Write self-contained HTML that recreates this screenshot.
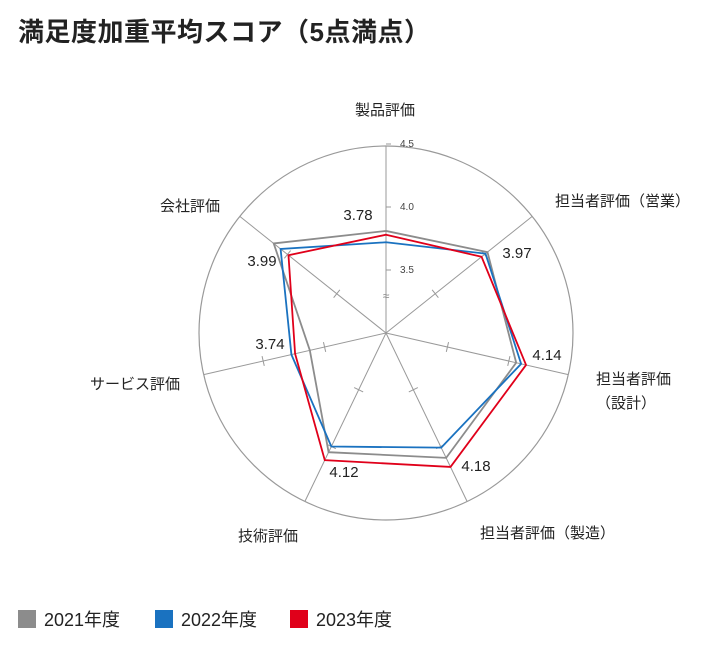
<!DOCTYPE html>
<html><head><meta charset="utf-8"><style>
body{margin:0;background:#fff;width:717px;height:652px;overflow:hidden;font-family:"Liberation Sans","Noto Sans CJK JP",sans-serif;}
.title{position:absolute;left:18px;top:12px;font-size:26px;font-weight:bold;color:#222;letter-spacing:0.5px}
.legend{position:absolute;top:606px;left:18px;font-size:18px;color:#222}
.li{position:absolute;top:0;display:flex;align-items:center;white-space:nowrap}
.sw{width:18px;height:18px;margin-right:8px}
</style></head><body>
<div class="title">満足度加重平均スコア（5点満点）</div>
<svg width="717" height="652" style="position:absolute;left:0;top:0">
<g id="grid"></g><g id="series"></g><g id="labels"></g>
</svg>
<div class="legend">
<div class="li" style="left:0"><div class="sw" style="background:#8c8c8c"></div>2021年度</div>
<div class="li" style="left:137px"><div class="sw" style="background:#1a72c0"></div>2022年度</div>
<div class="li" style="left:272px"><div class="sw" style="background:#e0001a"></div>2023年度</div>
</div>
<script>
const categories=["製品評価","担当者評価（営業）","担当者評価（設計）","担当者評価（製造）","技術評価","サービス評価","会社評価"];
const s2021=[3.81,4.03,4.06,4.10,4.05,3.62,4.14];
const s2022=[3.72,4.01,4.10,4.01,4.00,3.77,4.07];
const s2023=[3.78,3.97,4.14,4.18,4.12,3.74,3.99];
const valueLabels=["3.78","3.97","4.14","4.18","4.12","3.74","3.99"];
const tickLabels=["3.5","4.0","4.5"];
const tickValues=[3.5,4.0,4.5];
const CX=386,CY=333,R=189,VMIN=3.0,VMAX=4.5;
const NS="http://www.w3.org/2000/svg";
function ang(i){return i*2*Math.PI/categories.length;}
function rad(v){return (v-VMIN)/(VMAX-VMIN)*R;}
function pt(i,v){const a=ang(i),r=rad(v);return [CX+r*Math.sin(a),CY-r*Math.cos(a)];}
function mk(t,at,p){const e=document.createElementNS(NS,t);for(const k in at)e.setAttribute(k,at[k]);p.appendChild(e);return e;}
const grid=document.getElementById('grid'),ser=document.getElementById('series'),lab=document.getElementById('labels');
let c=mk('circle',{cx:CX,cy:CY,r:R-2,fill:'none',stroke:'#999','stroke-width':1.2},grid);


categories.forEach((cat,i)=>{
  const [x,y]=pt(i,VMIN+(R-2)/R*(VMAX-VMIN));
  const l=mk('line',{x1:CX,y1:CY,x2:x,y2:y,stroke:'#999','stroke-width':1},grid);
  
  
  if(i>0){tickValues.slice(0,2).forEach(tv=>{
    const [tx,ty]=pt(i,tv);const a=ang(i);const dx=Math.cos(a)*5,dy=Math.sin(a)*5;
    const t=mk('line',{x1:tx-dx,y1:ty-dy,x2:tx+dx,y2:ty+dy,stroke:'#999','stroke-width':1},grid);
    
    
  });}
});
tickValues.forEach((tv,k)=>{
  const [x,y]=pt(0,tv);
  const t=mk('line',{x1:x,y1:y,x2:x+5,y2:y,stroke:'#999'},grid);
  
  
  const tx=mk('text',{x:x+14,y:y+3,'font-size':10,fill:'#444'},grid);tx.textContent=tickLabels[k];
  
  
});
const br=mk('text',{x:CX,y:CY-33,'font-size':12,fill:'#888','text-anchor':'middle'},grid);br.textContent='≈';


[[s2021,'#8c8c8c','series-2021'],[s2022,'#1a72c0','series-2022'],[s2023,'#e0001a','series-2023']].forEach(([d,col,n])=>{
  const p=mk('polygon',{points:d.map((v,i)=>pt(i,v).join(',')).join(' '),fill:'none',stroke:col,'stroke-width':1.8},ser);
  
  
});
const catPos=[[385,115,'middle'],[555,206,'start'],[596,384,'start'],[480,538,'start'],[298,541,'end'],[180,389,'end'],[220,211,'end']];
categories.forEach((cat,i)=>{
  const [x,y,an]=catPos[i];
  const t=mk('text',{x:x,y:y,'font-size':15,fill:'#222','text-anchor':an},lab);
  if(i===2){t.textContent='担当者評価';const t2=mk('text',{x:x,y:y+24,'font-size':15,fill:'#222'},lab);t2.textContent='（設計）';
    
    }
  else t.textContent=cat;
  
  
});
const vPos=[[358,220],[517,258],[547,360],[476,471],[344,477],[270,349],[262,266]];
valueLabels.forEach((v,i)=>{
  const t=mk('text',{x:vPos[i][0],y:vPos[i][1],'font-size':15,fill:'#222','text-anchor':'middle'},lab);t.textContent=v;
  
  
});
</script>
</body></html>
